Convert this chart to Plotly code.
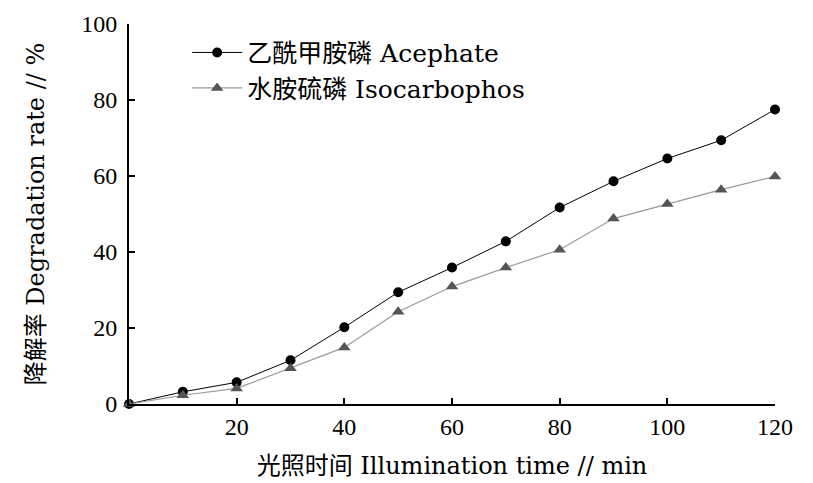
import plotly.graph_objects as go

time_min = [0, 10, 20, 30, 40, 50, 60, 70, 80, 90, 100, 110, 120]
acephate = [0, 3.2, 5.7, 11.5, 20.2, 29.4, 35.9, 42.8, 51.7, 58.6, 64.6, 69.4, 77.5]
isocarbophos = [0, 2.3, 4.1, 9.4, 14.9, 24.3, 30.9, 35.9, 40.6, 48.8, 52.6, 56.4, 59.9]
x_ticks = [20, 40, 60, 80, 100, 120]
y_ticks = [0, 20, 40, 60, 80, 100]

TICKFONT = "Liberation Serif"
TEXTFONT = "DejaVu Serif, Noto Sans CJK SC, serif"

fig = go.Figure()
fig.add_trace(go.Scatter(
    x=time_min, y=acephate, mode="lines+markers",
    name="乙酰甲胺磷 Acephate",
    line=dict(color="black", width=1),
    marker=dict(symbol="circle", size=10, color="black"),
    cliponaxis=False,
))
fig.add_trace(go.Scatter(
    x=time_min, y=isocarbophos, mode="lines+markers",
    name="水胺硫磷 Isocarbophos",
    line=dict(color="#9a9a9a", width=1.2),
    marker=dict(symbol="triangle-up", size=11, color="#555555"),
    cliponaxis=False,
))

fig.update_layout(
    width=813, height=483,
    margin=dict(l=129, r=38, t=24, b=79),
    paper_bgcolor="white", plot_bgcolor="white",
    font=dict(family=TEXTFONT, size=24, color="black"),
    showlegend=True,
    legend=dict(x=0.09, y=0.985, xanchor="left", yanchor="top",
                bgcolor="rgba(0,0,0,0)", font=dict(size=25, family=TEXTFONT),
                itemwidth=50, tracegroupgap=0),
)
fig.update_xaxes(
    range=[0, 120], tickvals=x_ticks, ticktext=[str(v) for v in x_ticks],
    showline=True, linecolor="black", linewidth=2,
    ticks="inside", ticklen=6, tickwidth=2, tickcolor="black",
    showgrid=False, zeroline=False, automargin=False,
    title=dict(text="光照时间 Illumination time // min", standoff=18,
               font=dict(size=24, family=TEXTFONT)),
    tickfont=dict(size=24, family=TICKFONT, color="black"),
)
fig.update_yaxes(
    range=[0, 100], tickvals=y_ticks, ticktext=[str(v) for v in y_ticks],
    showline=True, linecolor="black", linewidth=2,
    ticks="inside", ticklen=6, tickwidth=2, tickcolor="black",
    showgrid=False, zeroline=False, automargin=False,
    ticklabelstandoff=5,
    title=dict(text="降解率 Degradation rate // %", standoff=30,
               font=dict(size=24, family=TEXTFONT)),
    tickfont=dict(size=24, family=TICKFONT, color="black"),
)

fig.write_html("out.html")
